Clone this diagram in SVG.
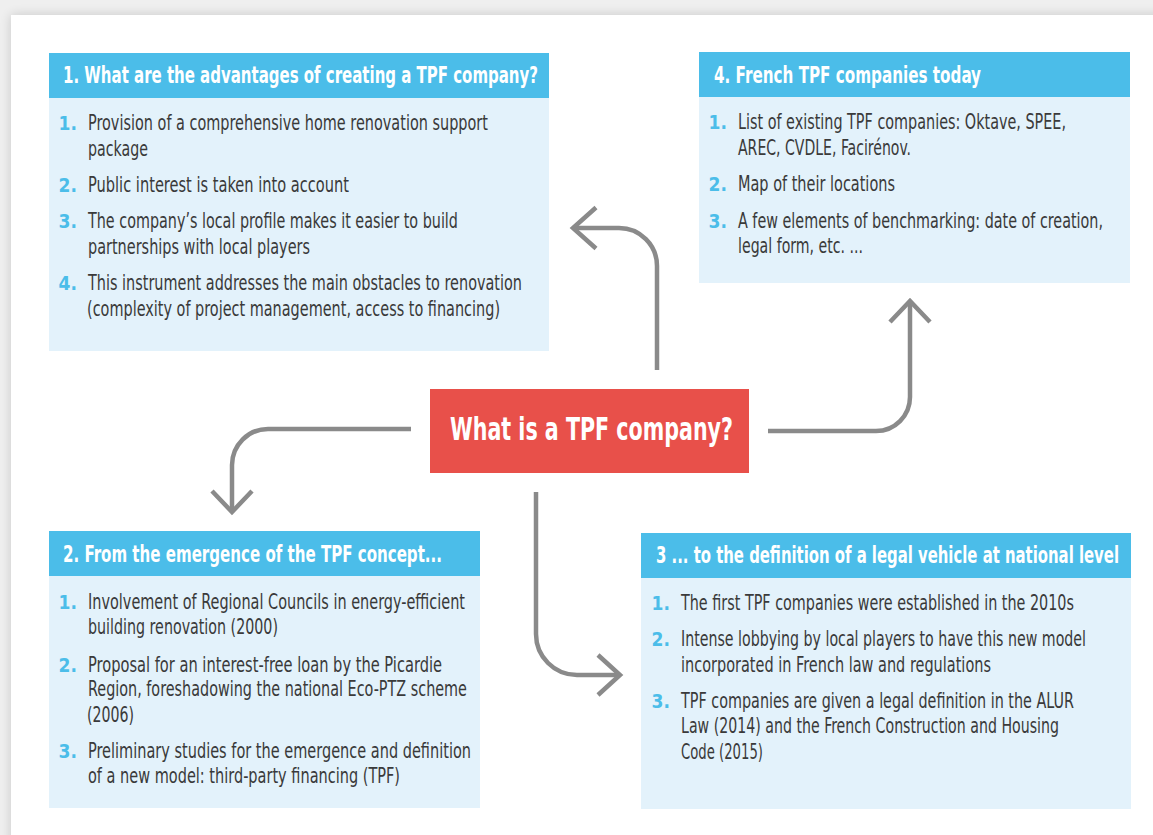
<svg xmlns="http://www.w3.org/2000/svg" width="1153" height="835" viewBox="0 0 1153 835">
  <defs>
    <filter id="cardShadow" x="-5%" y="-5%" width="110%" height="110%">
      <feGaussianBlur stdDeviation="6"/>
    </filter>
    <style>
      text { font-family: "Liberation Sans Narrow", "DejaVu Sans Condensed", "Liberation Sans", sans-serif; font-stretch: condensed; }
      .hd { fill: #ffffff; font-size: 23px; font-weight: bold; }
      .bd { fill: #3a3a3a; font-size: 20.5px; }
      .num { fill: #4bbde9; font-size: 19px; font-weight: bold; text-anchor: end; }
      .hbar { fill: #4bbde9; }
      .body { fill: #e3f2fb; }
      .core { fill: #e8504a; }
      .core-t { fill: #ffffff; font-size: 32px; font-weight: bold; }
      .link { fill: none; stroke: #8a8a8a; stroke-width: 4.5; stroke-linejoin: miter; stroke-linecap: butt; }
    </style>
  </defs>

  <!-- page backdrop and white card -->
  <rect x="0" y="0" width="1153" height="835" fill="#efefef"/>
  <rect x="11" y="15" width="1160" height="840" fill="#000000" opacity="0.16" filter="url(#cardShadow)"/>
  <rect x="11" y="15" width="1142" height="820" fill="#ffffff"/>

  <!-- connectors -->
  <g id="connectors">
    <path class="link" d="M657,370 V266 A38,38 0 0 0 619,228 H573"/>
    <path class="link" d="M596,207.5 L573,228 L596,248.5"/>
    <path class="link" d="M411,429 H268 A36,36 0 0 0 232,465 V511"/>
    <path class="link" d="M212,491 L232,512 L252,491"/>
    <path class="link" d="M768,431 H876 A34,34 0 0 0 910,397 V302"/>
    <path class="link" d="M890,322 L910,301 L930,322"/>
    <path class="link" d="M536,492 V634 A41,41 0 0 0 577,675 H620"/>
    <path class="link" d="M598,655 L620,675 L598,695"/>
  </g>

  <!-- central node (text drawn narrow: horizontal scale 0.75) -->
  <g id="core">
    <rect class="core" x="430" y="389" width="319" height="84"/>
    <text class="core-t" transform="translate(450,440) scale(0.75,1)" textLength="377.3" lengthAdjust="spacingAndGlyphs">What is a TPF company?</text>
  </g>

  <!-- 1. advantages (headers scaled 0.55, body lines 0.75) -->
  <g id="advantages">
    <rect class="hbar" x="49" y="53" width="500" height="45"/>
    <rect class="body" x="49" y="98" width="500" height="253"/>
    <text class="hd" transform="translate(63,83) scale(0.55,1)" textLength="863.6" lengthAdjust="spacingAndGlyphs">1. What are the advantages of creating a TPF company?</text>
    <text class="num" x="77" y="130">1.</text>
    <text class="bd" transform="translate(88,130) scale(0.75,1)" textLength="533.3" lengthAdjust="spacingAndGlyphs">Provision of a comprehensive home renovation support</text>
    <text class="bd" transform="translate(88,156) scale(0.75,1)" textLength="80" lengthAdjust="spacingAndGlyphs">package</text>
    <text class="num" x="77" y="192">2.</text>
    <text class="bd" transform="translate(88,192) scale(0.75,1)" textLength="348" lengthAdjust="spacingAndGlyphs">Public interest is taken into account</text>
    <text class="num" x="77" y="228">3.</text>
    <text class="bd" transform="translate(88,228) scale(0.75,1)" textLength="493.3" lengthAdjust="spacingAndGlyphs">The company’s local profile makes it easier to build</text>
    <text class="bd" transform="translate(88,254) scale(0.75,1)" textLength="296" lengthAdjust="spacingAndGlyphs">partnerships with local players</text>
    <text class="num" x="77" y="290">4.</text>
    <text class="bd" transform="translate(88,290) scale(0.75,1)" textLength="578.7" lengthAdjust="spacingAndGlyphs">This instrument addresses the main obstacles to renovation</text>
    <text class="bd" transform="translate(87,316) scale(0.75,1)" textLength="550.7" lengthAdjust="spacingAndGlyphs">(complexity of project management, access to financing)</text>
  </g>

  <!-- 4. today -->
  <g id="today">
    <rect class="hbar" x="699" y="52" width="431" height="45"/>
    <rect class="body" x="699" y="97" width="431" height="186"/>
    <text class="hd" transform="translate(714,83) scale(0.55,1)" textLength="485.5" lengthAdjust="spacingAndGlyphs">4. French TPF companies today</text>
    <text class="num" x="727" y="129">1.</text>
    <text class="bd" transform="translate(738,129) scale(0.75,1)" textLength="437.3" lengthAdjust="spacingAndGlyphs">List of existing TPF companies: Oktave, SPEE,</text>
    <text class="bd" transform="translate(738,155) scale(0.75,1)" textLength="230.7" lengthAdjust="spacingAndGlyphs">AREC, CVDLE, Facirénov.</text>
    <text class="num" x="727" y="191">2.</text>
    <text class="bd" transform="translate(738,191) scale(0.75,1)" textLength="209.3" lengthAdjust="spacingAndGlyphs">Map of their locations</text>
    <text class="num" x="727" y="228">3.</text>
    <text class="bd" transform="translate(738,228) scale(0.75,1)" textLength="486.7" lengthAdjust="spacingAndGlyphs">A few elements of benchmarking: date of creation,</text>
    <text class="bd" transform="translate(738,253) scale(0.75,1)" textLength="166.7" lengthAdjust="spacingAndGlyphs">legal form, etc. ...</text>
  </g>

  <!-- 2. emergence -->
  <g id="emergence">
    <rect class="hbar" x="49" y="531" width="431" height="45"/>
    <rect class="body" x="49" y="576" width="431" height="232"/>
    <text class="hd" transform="translate(63,562) scale(0.55,1)" textLength="689.1" lengthAdjust="spacingAndGlyphs">2. From the emergence of the TPF concept...</text>
    <text class="num" x="77" y="609">1.</text>
    <text class="bd" transform="translate(88,609) scale(0.75,1)" textLength="502.7" lengthAdjust="spacingAndGlyphs">Involvement of Regional Councils in energy-efficient</text>
    <text class="bd" transform="translate(88,634) scale(0.75,1)" textLength="253.3" lengthAdjust="spacingAndGlyphs">building renovation (2000)</text>
    <text class="num" x="77" y="672">2.</text>
    <text class="bd" transform="translate(88,672) scale(0.75,1)" textLength="472" lengthAdjust="spacingAndGlyphs">Proposal for an interest-free loan by the Picardie</text>
    <text class="bd" transform="translate(88,696) scale(0.75,1)" textLength="505.3" lengthAdjust="spacingAndGlyphs">Region, foreshadowing the national Eco-PTZ scheme</text>
    <text class="bd" transform="translate(87,722) scale(0.75,1)" textLength="62.7" lengthAdjust="spacingAndGlyphs">(2006)</text>
    <text class="num" x="77" y="758">3.</text>
    <text class="bd" transform="translate(88,758) scale(0.75,1)" textLength="510.7" lengthAdjust="spacingAndGlyphs">Preliminary studies for the emergence and definition</text>
    <text class="bd" transform="translate(88,783) scale(0.75,1)" textLength="416" lengthAdjust="spacingAndGlyphs">of a new model: third-party financing (TPF)</text>
  </g>

  <!-- 3. legal vehicle -->
  <g id="legal">
    <rect class="hbar" x="641" y="533" width="490" height="45"/>
    <rect class="body" x="641" y="578" width="490" height="231"/>
    <text class="hd" transform="translate(656,563) scale(0.55,1)" textLength="841.8" lengthAdjust="spacingAndGlyphs">3 ... to the definition of a legal vehicle at national level</text>
    <text class="num" x="670" y="610">1.</text>
    <text class="bd" transform="translate(681,610) scale(0.75,1)" textLength="524" lengthAdjust="spacingAndGlyphs">The first TPF companies were established in the 2010s</text>
    <text class="num" x="670" y="646">2.</text>
    <text class="bd" transform="translate(681,646) scale(0.75,1)" textLength="540" lengthAdjust="spacingAndGlyphs">Intense lobbying by local players to have this new model</text>
    <text class="bd" transform="translate(681,672) scale(0.75,1)" textLength="413.3" lengthAdjust="spacingAndGlyphs">incorporated in French law and regulations</text>
    <text class="num" x="670" y="708">3.</text>
    <text class="bd" transform="translate(681,708) scale(0.75,1)" textLength="524" lengthAdjust="spacingAndGlyphs">TPF companies are given a legal definition in the ALUR</text>
    <text class="bd" transform="translate(681,733) scale(0.75,1)" textLength="504" lengthAdjust="spacingAndGlyphs">Law (2014) and the French Construction and Housing</text>
    <text class="bd" transform="translate(681,759) scale(0.75,1)" textLength="109.3" lengthAdjust="spacingAndGlyphs">Code (2015)</text>
  </g>
</svg>
